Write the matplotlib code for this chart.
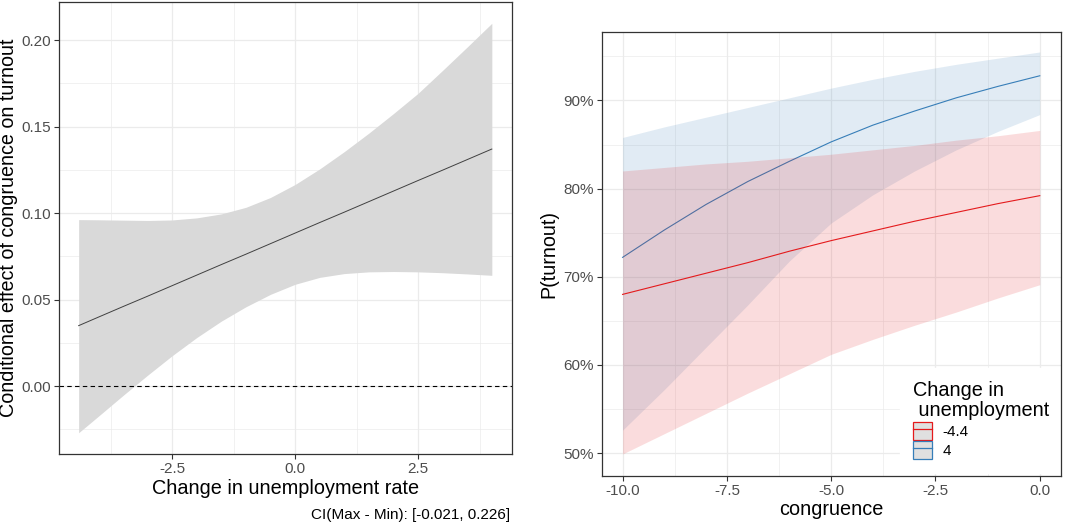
import matplotlib
matplotlib.use("Agg")
from matplotlib import pyplot as plt
from matplotlib.lines import Line2D
from matplotlib.patches import Patch
from matplotlib.ticker import MultipleLocator, PercentFormatter

plt.rcParams['font.family'] = ['Liberation Sans', 'DejaVu Sans']

# left panel: marginal effect of congruence by change in unemployment
unemp = [-4.4, -4, -3.5, -3, -2.5, -2, -1.5, -1, -0.5, 0, 0.5, 1, 1.5, 2, 2.5, 3, 3.5, 4]
effect = [0.0349, 0.0398, 0.0459, 0.0519, 0.0580, 0.0641, 0.0702, 0.0762, 0.0823, 0.0884,
          0.0945, 0.1005, 0.1066, 0.1127, 0.1188, 0.1248, 0.1309, 0.1370]
effect_hi = [0.0962, 0.0961, 0.0959, 0.0957, 0.0960, 0.0972, 0.0995, 0.1033, 0.1090, 0.1165,
             0.1255, 0.1355, 0.1462, 0.1575, 0.1692, 0.1825, 0.1960, 0.2097]
effect_lo = [-0.0270, -0.0175, -0.0055, 0.0062, 0.0175, 0.0280, 0.0375, 0.0458, 0.0530, 0.0588,
             0.0628, 0.0650, 0.0660, 0.0662, 0.0660, 0.0655, 0.0648, 0.0640]
ci_note = "CI(Max - Min): [-0.021, 0.226]"

# right panel: predicted turnout (%) by congruence
congruence = [-10, -9, -8, -7, -6, -5, -4, -3, -2, -1, 0]
groups = ["-4.4", "4"]
pred = {
    "-4.4": [68.0, 69.2, 70.4, 71.6, 72.9, 74.1, 75.2, 76.3, 77.3, 78.3, 79.2],
    "4": [72.2, 75.3, 78.2, 80.8, 83.1, 85.3, 87.2, 88.8, 90.3, 91.6, 92.8],
}
pred_hi = {
    "-4.4": [82.0, 82.4, 82.8, 83.1, 83.5, 83.9, 84.4, 84.9, 85.5, 86.0, 86.6],
    "4": [85.8, 87.0, 88.1, 89.2, 90.3, 91.4, 92.4, 93.3, 94.1, 94.8, 95.5],
}
pred_lo = {
    "-4.4": [49.9, 52.2, 54.5, 56.8, 59.0, 61.2, 62.9, 64.5, 66.0, 67.6, 69.1],
    "4": [52.6, 57.2, 62.0, 66.8, 71.8, 76.1, 79.3, 82.0, 84.4, 86.5, 88.4],
}
colors = {"-4.4": "#E41A1C", "4": "#377EB8"}

TICK_COL = "#4D4D4D"
BORDER = "#333333"
W, H = 1072, 530


def style_bw(ax):
    ax.set_facecolor("white")
    ax.grid(True, which="major", color="#EBEBEB", linewidth=0.9, zorder=0)
    ax.grid(True, which="minor", color="#EBEBEB", linewidth=0.5, zorder=0)
    ax.set_axisbelow(True)
    for s in ax.spines.values():
        s.set_color(BORDER)
        s.set_linewidth(0.9)
        s.set_zorder(6)
    ax.tick_params(which="major", length=3.5, width=0.8, color=BORDER,
                   labelcolor=TICK_COL, labelsize=11, pad=2.5)
    ax.tick_params(which="minor", length=0)


fig = plt.figure(figsize=(10.72, 5.3), dpi=100)

ax1 = fig.add_axes([0.055, 0.1434, 0.4226, 0.8528])
style_bw(ax1)
ax1.fill_between(unemp, effect_lo, effect_hi, color="#D9D9D9", linewidth=0, zorder=2)
ax1.plot(unemp, effect, color="#404040", linewidth=0.7, zorder=3)
ax1.axhline(0, color="black", linestyle=(0, (4, 3)), linewidth=0.8, zorder=3)
ax1.set_xlim(-4.80, 4.41)
ax1.set_ylim(-0.0393, 0.222)
ax1.xaxis.set_major_locator(MultipleLocator(2.5))
ax1.xaxis.set_minor_locator(MultipleLocator(1.25))
ax1.yaxis.set_major_locator(MultipleLocator(0.05))
ax1.yaxis.set_minor_locator(MultipleLocator(0.025))
ax1.xaxis.set_major_formatter(lambda v, p: "%.1f" % v)
ax1.yaxis.set_major_formatter(lambda v, p: "%.2f" % v)
ax1.set_xlabel("Change in unemployment rate", fontsize=14.3, labelpad=2)
ax1.set_ylabel("Conditional effect of congruence on turnout", fontsize=14.2)
ax1.yaxis.set_label_coords((18 - 59) / 453, 0.5)
fig.text(510 / W, 1 - 515 / H, ci_note, ha="right", va="center", fontsize=11)

ax2 = fig.add_axes([0.5613, 0.1019, 0.4285, 0.8383])
style_bw(ax2)
for g in ["4", "-4.4"]:
    ax2.fill_between(congruence, pred_lo[g], pred_hi[g], color=colors[g], alpha=0.15,
                     linewidth=0, zorder=2)
    ax2.plot(congruence, pred[g], color=colors[g], linewidth=0.8, zorder=2)
ax2.set_xlim(-10.5, 0.51)
ax2.set_ylim(47.4, 97.8)
ax2.xaxis.set_major_locator(MultipleLocator(2.5))
ax2.xaxis.set_minor_locator(MultipleLocator(1.25))
ax2.yaxis.set_major_locator(MultipleLocator(10))
ax2.yaxis.set_minor_locator(MultipleLocator(5))
ax2.xaxis.set_major_formatter(lambda v, p: "%.1f" % v)
ax2.yaxis.set_major_formatter(PercentFormatter(decimals=0))
ax2.set_xlabel("congruence", fontsize=14.3, labelpad=1)
ax2.set_ylabel("P(turnout)", fontsize=14.2)
ax2.yaxis.set_label_coords((558 - 601.7) / 459.3, 0.5)

handles = [(Patch(facecolor="#E0E0E0", edgecolor=colors[g], linewidth=0.9),
            Line2D([], [], color=colors[g], linewidth=0.9)) for g in groups]
leg = ax2.legend(handles, groups, title="Change in\n unemployment", loc="upper left",
                 bbox_to_anchor=(892 / W, 1 - 360 / H), bbox_transform=fig.transFigure,
                 fontsize=11, title_fontsize=14.3,
                 frameon=True, fancybox=False, edgecolor="white", framealpha=1,
                 handlelength=1.2, handleheight=1.44, handletextpad=0.7,
                 labelspacing=0.1, borderpad=0.9, alignment="left")
leg.get_title().set_linespacing(1.05)
leg.set_zorder(5)

fig.savefig("out.png", dpi=100)
